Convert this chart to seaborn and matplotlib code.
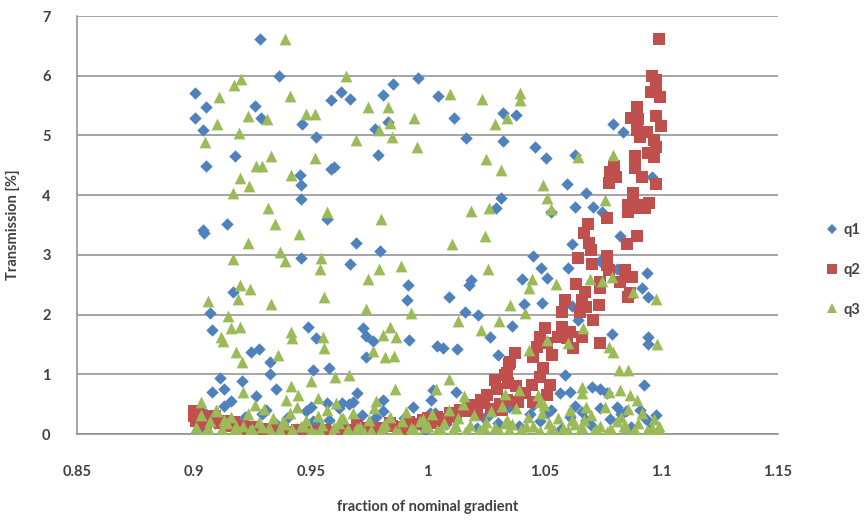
import matplotlib
matplotlib.use("Agg")
import matplotlib.pyplot as plt
import seaborn as sns
from matplotlib.lines import Line2D

# ---- q1 (blue diamonds) ----
q1_x = [0.9283, 0.9363, 0.9007, 0.9054, 0.9003, 0.9040, 0.9260, 0.9286, 0.9465, 0.9522,
        0.9585, 0.9630, 0.9667, 0.9176, 0.9054, 0.9453, 0.9460, 0.9458, 0.9585, 0.9598,
        0.9570, 0.9140, 0.9040,
        0.9958, 0.9851, 0.9811, 1.0046, 1.0113, 0.9832, 0.9775, 1.0165, 1.0325, 1.0380,
        1.0325, 0.9788, 1.0315, 1.0293,
        1.0460, 1.0507, 1.0630, 1.0796, 1.0838, 1.0596, 1.0680, 1.0630, 1.0710, 1.0746,
        1.0530, 1.0960,
        0.9043, 0.9695, 0.9457, 0.9670, 0.9166, 0.9069, 0.9076, 0.9487, 0.9522, 0.9243,
        0.9280, 0.9325, 0.9325, 0.9111, 0.9204, 0.9076, 0.9130, 0.9161, 0.9353, 0.9510,
        0.9580, 0.9266, 0.9700, 0.9680, 0.9571, 0.9636, 0.9500,
        0.9798, 0.9918, 0.9914, 1.0093, 1.0186, 1.0179, 1.0160, 1.0215, 0.9723, 0.9737,
        0.9765, 0.9737, 0.9922, 1.0039, 1.0067, 1.0128, 1.0268, 1.0300, 1.0363, 1.0017,
        1.0024, 1.0120, 0.9811, 0.9663,
        1.0618, 1.0822, 1.0450, 1.0485, 1.0603, 1.0739, 1.0403, 1.0513, 1.0810, 1.0939,
        1.0917, 1.0945, 1.0413, 1.0488, 1.0620, 1.0646, 1.0789, 1.0945, 1.0945, 1.0589,
        1.0927, 1.0703, 1.0739, 1.0767, 1.0610, 1.0567,
        0.902, 0.905, 0.909, 0.913, 0.918, 0.922, 0.926, 0.931, 0.935, 0.940,
        0.944, 0.948, 0.953, 0.958, 0.962, 0.967, 0.972, 0.976, 0.981, 0.986,
        0.990, 0.994, 0.999, 1.003, 1.008, 1.012, 1.017, 1.021, 1.026, 1.030,
        1.035, 1.039, 1.044, 1.048, 1.053, 1.057, 1.061, 1.066, 1.070, 1.074,
        1.078, 1.083, 1.087, 1.091, 1.095, 1.098, 1.063, 1.081, 1.045,
        0.907, 0.929, 0.951, 0.978, 1.001, 1.024, 1.051, 1.068, 1.085, 1.093]
q1_y = [6.61, 6.00, 5.71, 5.47, 5.30, 5.09, 5.49, 5.29, 5.19, 4.97,
        5.59, 5.72, 5.61, 4.66, 4.49, 4.34, 4.17, 3.94, 4.44, 4.47,
        3.60, 3.52, 3.42,
        5.96, 5.86, 5.68, 5.66, 5.30, 5.22, 5.11, 4.95, 5.37, 5.34,
        4.91, 4.68, 3.95, 3.79,
        4.80, 4.63, 4.68, 5.19, 5.05, 4.19, 4.04, 3.80, 3.80, 3.72,
        3.72, 4.31,
        3.36, 3.20, 2.95, 2.84, 2.38, 2.03, 1.75, 1.79, 1.60, 1.38,
        1.42, 1.21, 1.00, 0.94, 0.88, 0.71, 0.76, 0.55, 0.75, 1.07,
        1.10, 0.64, 0.68, 0.54, 0.52, 0.52, 0.46,
        3.07, 2.50, 2.24, 2.30, 2.58, 2.50, 2.04, 2.00, 1.77, 1.64,
        1.55, 1.29, 1.57, 1.47, 1.44, 1.42, 1.62, 1.32, 1.81, 0.57,
        0.74, 0.71, 0.57, 0.51,
        3.18, 3.32, 2.98, 2.78, 2.78, 2.89, 2.60, 2.61, 2.76, 2.70,
        2.45, 2.29, 2.18, 2.19, 2.15, 1.91, 1.68, 1.63, 1.51, 0.99,
        0.82, 0.78, 0.76, 0.69, 0.71, 0.68,
        0.08, 0.34, 0.19, 0.47, 0.12, 0.29, 0.05, 0.41, 0.17, 0.26,
        0.09, 0.38, 0.14, 0.23, 0.44, 0.06, 0.31, 0.18, 0.39, 0.11,
        0.27, 0.45, 0.07, 0.35, 0.16, 0.24, 0.42, 0.10, 0.30, 0.19,
        0.46, 0.13, 0.33, 0.22, 0.40, 0.08, 0.28, 0.37, 0.15, 0.44,
        0.25, 0.34, 0.12, 0.41, 0.20, 0.31, 0.47, 0.46, 0.49,
        0.24, 0.33, 0.21, 0.29, 0.36, 0.27, 0.35, 0.23, 0.38, 0.26]

# ---- q2 (red squares) ----
q2_x = [1.0990, 1.0960, 1.0980, 1.0956, 1.0996, 1.0980, 1.0896, 1.0870, 1.0900, 1.0980,
        1.1000, 1.0896, 1.0940, 1.0910, 1.0970, 1.0980, 1.0945, 1.0970, 1.0890, 1.0800,
        1.0782, 1.0805, 1.0775, 1.0890, 1.0920, 1.0980, 1.0880, 1.0880, 1.0860, 1.0920,
        1.0950, 1.0900, 1.0930, 1.0860, 1.0770, 1.0685, 1.0880,
        1.0668, 1.0896, 1.0853, 1.0690, 1.0699, 1.0642, 1.0704, 1.0767, 1.0767, 1.0775,
        1.0847, 1.0876, 1.0824, 1.0739, 1.0739, 1.0860, 1.0636, 1.0675, 1.0589, 1.0660,
        1.0680, 1.0732, 1.0575, 1.0653, 1.0710, 1.0503, 1.0482, 1.0575, 1.0610, 1.0560,
        1.0596, 1.0660, 1.0468, 1.0510, 1.0739, 1.0622, 1.0375, 1.0453, 1.0532, 1.0496,
        1.0350, 1.0482, 1.0332, 1.0346, 1.0446, 1.0525, 1.0418, 1.0510, 1.0339, 1.0389,
        1.0453, 1.0320, 1.0867,
        1.0353, 1.0339, 1.0290, 1.0297, 1.0254, 1.0227, 1.0184, 1.0139, 1.0096, 1.0039,
        0.9980, 0.9840, 0.9654, 1.0310, 1.0380,
        1.012, 1.016, 1.020, 1.024, 1.027, 1.021, 1.006, 1.000, 0.992, 0.988,
        0.975, 0.970,
        0.900, 0.900, 0.901, 0.902, 0.904, 0.905, 0.907, 0.909, 0.911, 0.913,
        0.915, 0.917, 0.919, 0.921, 0.923, 0.926, 0.929, 0.932, 0.935, 0.938,
        0.941, 0.944, 0.947, 0.950, 0.953, 0.956, 0.959, 0.962, 0.968, 0.972,
        0.976, 0.980, 0.985, 0.990, 0.995, 1.002, 1.008]
q2_y = [6.61, 5.99, 5.93, 5.73, 5.65, 5.76, 5.47, 5.29, 5.28, 5.32,
        5.15, 5.09, 5.06, 4.97, 4.93, 4.81, 4.70, 4.64, 4.66, 4.48,
        4.39, 4.30, 4.20, 4.46, 4.31, 4.19, 4.03, 3.86, 3.83, 3.84,
        3.87, 3.78, 3.79, 3.72, 3.61, 3.52, 3.98,
        3.36, 3.32, 3.18, 3.20, 3.08, 2.94, 2.85, 2.98, 2.83, 2.75,
        2.75, 2.63, 2.55, 2.55, 2.44, 2.30, 2.51, 2.38, 2.24, 2.24,
        2.13, 2.16, 2.05, 2.05, 1.91, 1.77, 1.63, 1.80, 1.71, 1.63,
        1.60, 1.63, 1.46, 1.52, 1.52, 1.44, 1.35, 1.29, 1.32, 1.10,
        1.18, 0.96, 0.99, 0.85, 0.82, 0.82, 0.68, 0.65, 0.57, 0.54,
        0.54, 0.40, 2.36,
        1.21, 1.02, 0.90, 0.76, 0.65, 0.57, 0.49, 0.40, 0.35, 0.29,
        0.23, 0.18, 0.07, 0.50, 0.80,
        0.30, 0.38, 0.45, 0.52, 0.42, 0.33, 0.22, 0.27, 0.20, 0.12,
        0.10, 0.15,
        0.38, 0.30, 0.22, 0.35, 0.28, 0.16, 0.24, 0.30, 0.18, 0.22,
        0.13, 0.20, 0.10, 0.15, 0.08, 0.12, 0.06, 0.09, 0.04, 0.07,
        0.03, 0.06, 0.02, 0.05, 0.03, 0.07, 0.04, 0.02, 0.05, 0.08,
        0.06, 0.10, 0.13, 0.09, 0.16, 0.19, 0.25]

# ---- q3 (green triangles) ----
q3_x = [0.9390, 0.9200, 0.9170, 0.9650, 0.9109, 0.9410, 0.9233, 0.9314, 0.9478, 0.9518,
        0.9100, 0.9194, 0.9047, 0.9695, 0.9332, 0.9520, 0.9266, 0.9290, 0.9197, 0.9237,
        0.9417, 0.9166, 0.9318, 0.9570, 0.9349,
        0.9746, 0.9833, 1.0096, 1.0232, 1.0398, 1.0398, 0.9944, 0.9840, 0.9794, 1.0290,
        1.0340, 0.9847, 0.9953, 1.0249, 1.0315, 1.0186, 1.0265, 0.9799,
        1.0496, 1.0510, 1.0530, 1.0646, 1.0796, 1.0760,
        0.9450, 0.9230, 0.9368, 0.9166, 0.9392, 0.9543, 0.9540, 0.9197, 0.9240, 0.9188,
        0.9059, 0.9330, 0.9559, 0.9148, 0.9160, 0.9197, 0.9117, 0.9124, 0.9417, 0.9420,
        0.9552, 0.9559, 0.9182, 0.9207, 0.9362, 0.9603, 0.9665, 0.9500, 0.9417, 0.9210,
        0.9447, 0.9396, 0.9532, 0.9030, 0.9097,
        1.0103, 1.0246, 0.9794, 0.9887, 0.9745, 1.0260, 0.9737, 0.9929, 1.0353, 1.0129,
        1.0307, 1.0229, 0.9839, 0.9809, 0.9865, 0.9768, 0.9818, 0.9857, 1.0093, 0.9862,
        1.0037, 1.0157, 1.0332,
        1.0446, 1.0436, 1.0550, 1.0418, 1.0696, 1.0746, 1.0789, 1.0878, 1.0980, 1.0665,
        1.0510, 1.0603, 1.0436, 1.0776, 1.0796, 1.0984, 1.0818, 1.0857, 1.0393, 1.0475,
        1.0660, 1.0660, 1.0776, 1.0824, 1.0867, 1.0896, 1.0482,
        0.901, 0.903, 0.905, 0.907, 0.910, 0.912, 0.914, 0.916, 0.919, 0.921,
        0.923, 0.925, 0.928, 0.930, 0.932, 0.934, 0.937, 0.939, 0.941, 0.943,
        0.946, 0.948, 0.950, 0.953, 0.955, 0.957, 0.959, 0.962, 0.964, 0.966,
        0.968, 0.971, 0.973, 0.975, 0.977, 0.980, 0.982, 0.984, 0.986, 0.989,
        0.991, 0.993, 0.995, 0.998, 1.000, 1.002, 1.004, 1.007, 1.009, 1.011,
        1.013, 1.016, 1.018, 1.020, 1.022, 1.025, 1.027, 1.029, 1.031, 1.034,
        1.036, 1.038, 1.040, 1.043, 1.045, 1.047, 1.049, 1.052, 1.054, 1.056,
        1.058, 1.061, 1.063, 1.065, 1.067, 1.070, 1.072, 1.074, 1.076, 1.079,
        1.081, 1.083, 1.085, 1.088, 1.090, 1.092, 1.094, 1.097, 1.099, 1.100,
        0.902, 0.917, 0.933, 0.952, 0.969, 0.987, 1.005, 1.023, 1.041, 1.059,
        1.077, 1.095, 0.944, 0.961, 0.926, 0.978, 1.015, 1.032, 1.050, 1.068,
        1.086,
        0.906, 0.911, 0.918, 0.924, 0.929, 0.936, 0.942, 0.947, 0.954, 0.960,
        0.965, 0.970, 0.976, 0.981, 0.988, 0.994, 0.999, 1.006, 1.012, 1.017,
        1.024, 1.030, 1.035, 1.042, 1.048, 1.053, 1.060, 1.066, 1.071, 1.078,
        1.084, 1.089, 1.096, 1.098, 0.913, 0.938, 0.963, 0.997, 1.033, 1.062]
q3_y = [6.61, 5.94, 5.84, 5.99, 5.65, 5.66, 5.32, 5.28, 5.36, 5.36,
        5.19, 5.04, 4.89, 4.92, 4.66, 4.63, 4.48, 4.49, 4.28, 4.16,
        4.34, 4.04, 3.78, 3.72, 3.52,
        5.47, 5.48, 5.70, 5.61, 5.71, 5.60, 5.30, 5.20, 5.09, 5.19,
        5.29, 4.97, 4.80, 4.60, 4.42, 3.74, 3.78, 3.60,
        4.17, 3.95, 3.76, 4.64, 4.67, 3.92,
        3.35, 3.20, 3.05, 2.93, 2.89, 2.94, 2.76, 2.50, 2.43, 2.26,
        2.23, 2.17, 2.29, 1.98, 1.77, 1.80, 1.63, 1.56, 1.71, 1.60,
        1.63, 1.44, 1.37, 1.20, 1.32, 0.96, 0.99, 0.88, 0.81, 0.71,
        0.65, 0.57, 0.60, 0.54, 0.40,
        3.18, 3.32, 2.76, 2.82, 2.59, 2.76, 2.09, 2.02, 2.16, 1.89,
        1.89, 1.74, 1.80, 1.66, 1.62, 1.39, 1.29, 1.31, 0.92, 0.76,
        0.76, 0.64, 0.67,
        2.59, 2.44, 2.51, 2.02, 2.59, 2.56, 2.63, 2.38, 2.26, 1.77,
        1.57, 1.52, 1.41, 1.46, 1.38, 1.51, 1.07, 1.07, 0.74, 0.65,
        0.79, 0.68, 0.70, 0.74, 0.65, 0.57, 0.54,
        0.12, 0.31, 0.05, 0.22, 0.38, 0.09, 0.18, 0.28, 0.04, 0.14,
        0.33, 0.08, 0.20, 0.42, 0.11, 0.26, 0.06, 0.17, 0.35, 0.02,
        0.13, 0.24, 0.07, 0.30, 0.15, 0.40, 0.04, 0.19, 0.27, 0.09,
        0.36, 0.12, 0.03, 0.23, 0.44, 0.08, 0.16, 0.29, 0.05, 0.21,
        0.37, 0.10, 0.02, 0.25, 0.14, 0.33, 0.06, 0.18, 0.41, 0.09,
        0.26, 0.03, 0.15, 0.31, 0.07, 0.20, 0.38, 0.11, 0.04, 0.24,
        0.16, 0.43, 0.08, 0.28, 0.13, 0.02, 0.35, 0.19, 0.06, 0.27,
        0.10, 0.40, 0.17, 0.04, 0.23, 0.32, 0.09, 0.14, 0.45, 0.05,
        0.21, 0.29, 0.11, 0.03, 0.18, 0.36, 0.07, 0.25, 0.13, 0.02,
        0.02, 0.07, 0.03, 0.02, 0.05, 0.02, 0.03, 0.02, 0.05, 0.02,
        0.03, 0.04, 0.45, 0.52, 0.48, 0.55, 0.50, 0.47, 0.49, 0.46,
        0.42,
        0.10, 0.04, 0.13, 0.06, 0.11, 0.03, 0.09, 0.14, 0.05, 0.12,
        0.03, 0.10, 0.06, 0.13, 0.04, 0.08, 0.12, 0.05, 0.14, 0.07,
        0.11, 0.03, 0.09, 0.13, 0.05, 0.10, 0.07, 0.12, 0.04, 0.09,
        0.13, 0.06, 0.10, 0.03, 0.24, 0.21, 0.26, 0.22, 0.19, 0.23]

series_names = ["q1", "q2", "q3"]
series_colors = ["#4F81BD", "#C0504D", "#9BBB59"]
series_markers = ["D", "s", "^"]

sns.set_theme(style="white")
plt.rcParams["font.family"] = ["Lato", "DejaVu Sans"]

text_color = "#404040"
line_color = "#8C8C8C"

fig = plt.figure(figsize=(8.68, 5.21), dpi=100)
ax = fig.add_axes([77 / 868, 87 / 521, 701 / 868, 418 / 521])

sizes = [40, 68, 72]
for xs, ys, color, marker, size in zip([q1_x, q2_x, q3_x], [q1_y, q2_y, q3_y],
                                       series_colors, series_markers, sizes):
    sns.scatterplot(x=xs, y=ys, ax=ax, color=color, marker=marker, s=size,
                    linewidth=0, legend=False, zorder=3)

ax.set_xlim(0.85, 1.15)
ax.set_ylim(0, 7)
ax.set_xticks([0.85, 0.9, 0.95, 1.0, 1.05, 1.1, 1.15])
ax.set_xticklabels(["0.85", "0.9", "0.95", "1", "1.05", "1.1", "1.15"])
ax.set_yticks(range(0, 8))
ax.yaxis.grid(True, color=line_color, linewidth=1.1, zorder=0)
ax.xaxis.grid(False)
ax.set_axisbelow(True)
for side in ["top", "right"]:
    ax.spines[side].set_visible(False)
for side in ["left", "bottom"]:
    ax.spines[side].set_color(line_color)
    ax.spines[side].set_linewidth(1.1)

ax.tick_params(axis="x", length=0, pad=22, labelsize=10.5, labelcolor=text_color)
ax.tick_params(axis="y", length=0, pad=19, labelsize=10.5, labelcolor=text_color)
for lab in ax.get_xticklabels() + ax.get_yticklabels():
    lab.set_fontweight("bold")

ax.set_xlabel("fraction of nominal gradient", fontsize=10.5, fontweight="bold",
              color=text_color)
ax.set_ylabel("Transmission [%]", fontsize=10.5, fontweight="bold", color=text_color)
ax.xaxis.set_label_coords(0.5, -0.158)
ax.yaxis.set_label_coords(-0.081, 0.5)

handles = [Line2D([0], [0], linestyle="none", marker=m, color=c,
                  markersize=ms, markeredgewidth=0)
           for m, c, ms in zip(series_markers, series_colors, [5, 7, 6.5])]
fig.legend(handles, series_names, loc="center left",
           bbox_to_anchor=(826 / 868, 1 - 270 / 521), frameon=False,
           borderpad=0, borderaxespad=0, handlelength=0.8, handletextpad=0.4,
           labelspacing=1.75, prop={"weight": "bold", "size": 10.5},
           labelcolor=text_color)

fig.savefig("out.png", dpi=100)
